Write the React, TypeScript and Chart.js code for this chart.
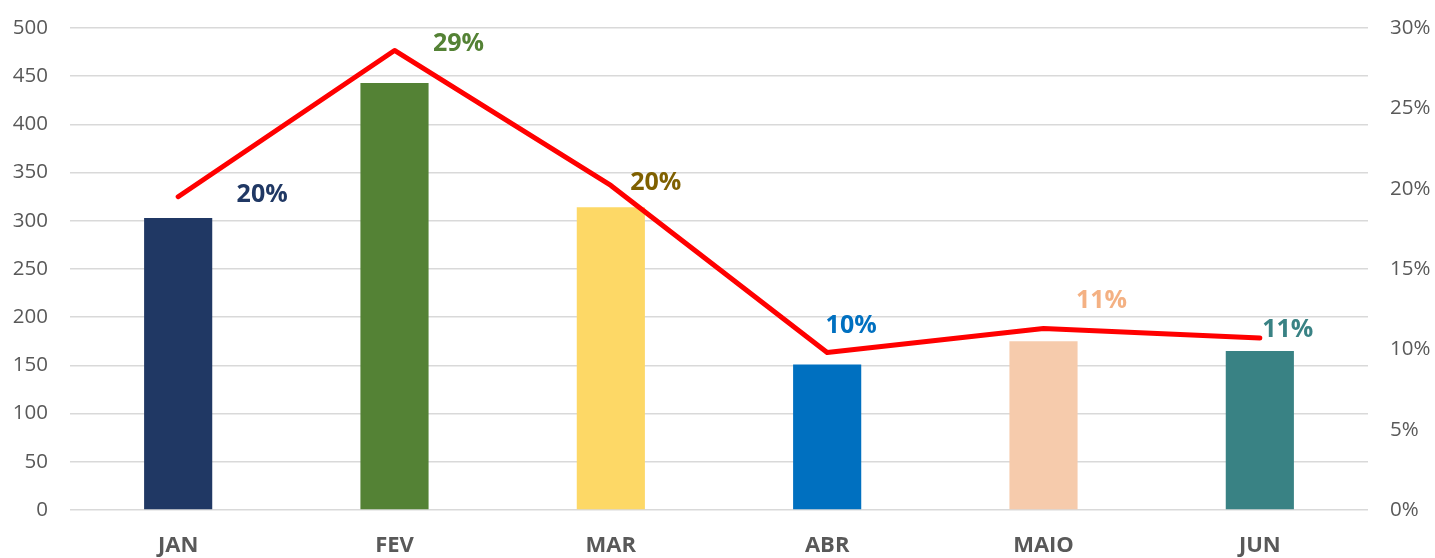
import React, { useEffect, useRef } from "react";
import { Chart, registerables } from "chart.js";

Chart.register(...registerables);

const categories = ["JAN", "FEV", "MAR", "ABR", "MAIO", "JUN"];
const barValues = [303, 443, 314, 151, 175, 165];
const shareValues = [0.195, 0.286, 0.202, 0.098, 0.113, 0.107];
const shareLabels = ["20%", "29%", "20%", "10%", "11%", "11%"];
const barColors = ["#203864", "#548235", "#FDD866", "#0070C0", "#F6CBAC", "#398284"];
const labelColors = ["#203864", "#548235", "#7F6000", "#0070C0", "#F4B183", "#398284"];
const labelOffsets = [
  [84, -2],
  [64, -7],
  [45, -3],
  [24, -27],
  [58, -28],
  [28, -8],
];

const FONT = "'Open Sans', sans-serif";

const labelPlugin = {
  id: "shareLabels",
  afterDatasetsDraw(chart: any) {
    const meta = chart.getDatasetMeta(1);
    const ctx = chart.ctx;
    ctx.save();
    ctx.font = `bold 25px ${FONT}`;
    ctx.textAlign = "center";
    ctx.textBaseline = "middle";
    meta.data.forEach((pt: any, i: number) => {
      ctx.fillStyle = labelColors[i];
      ctx.fillText(shareLabels[i], pt.x + labelOffsets[i][0], pt.y + labelOffsets[i][1]);
    });
    ctx.restore();
  },
};

export default function App() {
  const ref = useRef<HTMLCanvasElement | null>(null);
  useEffect(() => {
    if (!ref.current) return;
    const chart = new Chart(ref.current, {
      type: "bar",
      data: {
        labels: categories,
        datasets: [
          {
            type: "bar",
            data: barValues,
            backgroundColor: barColors,
            yAxisID: "y",
            barPercentage: 0.315,
            categoryPercentage: 1,
            order: 2,
          },
          {
            type: "line",
            data: shareValues,
            borderColor: "#FF0000",
            borderWidth: 5,
            borderCapStyle: "round",
            borderJoinStyle: "round",
            pointRadius: 0,
            yAxisID: "y1",
            order: 1,
          } as any,
        ],
      },
      options: {
        animation: false,
        responsive: false,
        maintainAspectRatio: false,
        layout: { padding: { top: 28, bottom: 0, left: 0, right: 0 } },
        plugins: { legend: { display: false }, tooltip: { enabled: false } },
        scales: {
          x: {
            grid: { display: false, drawTicks: false },
            border: { display: false },
            ticks: {
              color: "#595959",
              font: { family: FONT, size: 22, weight: "bold" },
              padding: 23,
            },
            afterFit(scale: any) {
              scale.height = 48;
              scale.paddingLeft = 0;
              scale.paddingRight = 0;
            },
          },
          y: {
            position: "left",
            min: 0,
            max: 500,
            ticks: {
              stepSize: 50,
              color: "#595959",
              font: { family: FONT, size: 20.5 },
              padding: 22,
            },
            grid: { color: "#D9D9D9", lineWidth: 1.5, drawTicks: false },
            border: { display: false },
            afterFit(scale: any) {
              scale.width = 70;
              scale.paddingTop = 0;
              scale.paddingBottom = 0;
            },
          },
          y1: {
            position: "right",
            min: 0,
            max: 0.3,
            ticks: {
              stepSize: 0.05,
              color: "#595959",
              font: { family: FONT, size: 20.5 },
              padding: 22,
              callback: (v: any) => `${Math.round(Number(v) * 100)}%`,
            },
            grid: { display: false, drawTicks: false },
            border: { display: false },
            afterFit(scale: any) {
              scale.width = 67;
              scale.paddingTop = 0;
              scale.paddingBottom = 0;
            },
          },
        },
      },
      plugins: [labelPlugin],
    });
    return () => chart.destroy();
  }, []);
  return (
    <div style={{ position: "fixed", left: 0, top: 0, width: 1435, height: 558, background: "#fff" }}>
      <canvas ref={ref} width={1435} height={558} style={{ width: 1435, height: 558 }} />
    </div>
  );
}
